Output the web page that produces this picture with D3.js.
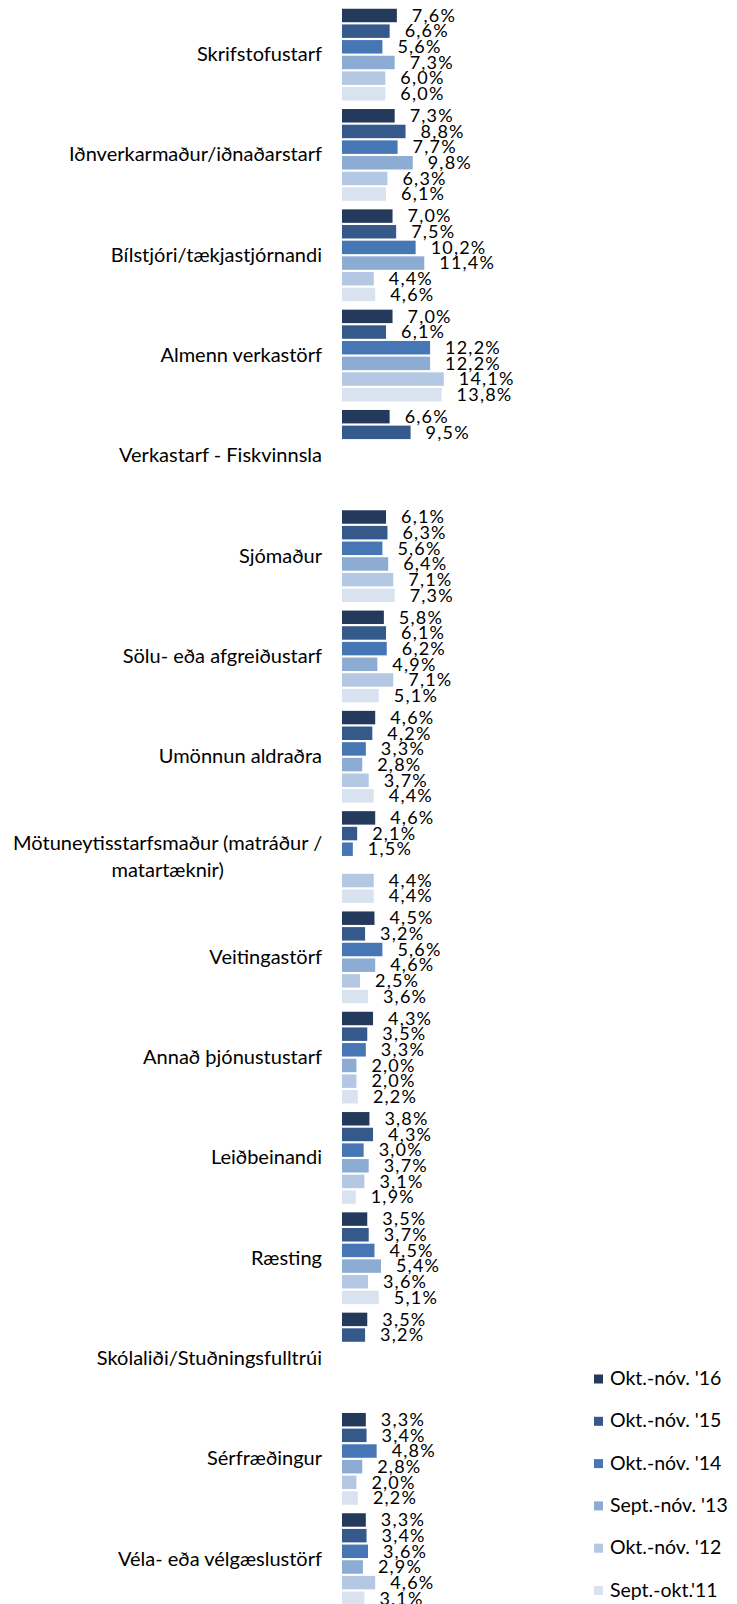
<!DOCTYPE html>
<html>
<head>
<meta charset="utf-8">
<script src="https://cdn.jsdelivr.net/npm/d3@7"></script>
<style>
  body { margin: 0; background: #fff; }
  text { font-family: Lato, "Open Sans", sans-serif; fill: #000; }
</style>
</head>
<body>
<script>
const w = 737;
const h = 1604;

const categories = [
  "Skrifstofustarf",
  "Iðnverkarmaður/iðnaðarstarf",
  "Bílstjóri/tækjastjórnandi",
  "Almenn verkastörf",
  "Verkastarf - Fiskvinnsla",
  "Sjómaður",
  "Sölu- eða afgreiðustarf",
  "Umönnun aldraðra",
  "Mötuneytisstarfsmaður (matráður /|matartæknir)",
  "Veitingastörf",
  "Annað þjónustustarf",
  "Leiðbeinandi",
  "Ræsting",
  "Skólaliði/Stuðningsfulltrúi",
  "Sérfræðingur",
  "Véla- eða vélgæslustörf"
];

const seriesNames = ["Okt.-nóv. '16", "Okt.-nóv. '15", "Okt.-nóv. '14", "Sept.-nóv. '13", "Okt.-nóv. '12", "Sept.-okt.'11"];
const colors = ["#243a5d", "#34598a", "#4677b4", "#8dacd4", "#b4c8e4", "#d9e3f0"];

// percent values, one array per survey (null = no bar)
const okt16 = [7.6, 7.3, 7.0, 7.0, 6.6, 6.1, 5.8, 4.6, 4.6, 4.5, 4.3, 3.8, 3.5, 3.5, 3.3, 3.3];
const okt15 = [6.6, 8.8, 7.5, 6.1, 9.5, 6.3, 6.1, 4.2, 2.1, 3.2, 3.5, 4.3, 3.7, 3.2, 3.4, 3.4];
const okt14 = [5.6, 7.7, 10.2, 12.2, null, 5.6, 6.2, 3.3, 1.5, 5.6, 3.3, 3.0, 4.5, null, 4.8, 3.6];
const sept13 = [7.3, 9.8, 11.4, 12.2, null, 6.4, 4.9, 2.8, null, 4.6, 2.0, 3.7, 5.4, null, 2.8, 2.9];
const okt12 = [6.0, 6.3, 4.4, 14.1, null, 7.1, 7.1, 3.7, 4.4, 2.5, 2.0, 3.1, 3.6, null, 2.0, 4.6];
const sept11 = [6.0, 6.1, 4.6, 13.8, null, 7.3, 5.1, 4.4, 4.4, 3.6, 2.2, 1.9, 5.1, null, 2.2, 3.1];

const seriesValues = [okt16, okt15, okt14, sept13, okt12, sept11];

const axisX = 342;

const svg = d3.select("body")
  .append("svg")
  .attr("width", w)
  .attr("height", h);

const xScale = d3.scaleLinear()
  .domain([0, 16])
  .range([axisX, axisX + 115.5]);

const y0 = d3.scaleBand()
  .domain(categories)
  .range([4.5, 4.5 + 16 * 100.3])
  .paddingInner(0.063)
  .paddingOuter(0.0315);

const y1 = d3.scaleBand()
  .domain(d3.range(seriesNames.length))
  .range([0, y0.bandwidth()])
  .paddingInner(0.14)
  .paddingOuter(0.07);

const fmt = (v) => v.toFixed(1).replace(".", ",") + "%";

const groups = svg.selectAll(".group")
  .data(categories)
  .enter()
  .append("g")
  .attr("class", "group")
  .attr("transform", (d) => "translate(0," + y0(d) + ")");

groups.each(function(cat, ci) {
  const g = d3.select(this);
  const vals = seriesValues.map((s, si) => ({ si: si, v: s[ci] })).filter((d) => d.v != null);

  g.selectAll("rect")
    .data(vals)
    .enter()
    .append("rect")
    .attr("x", axisX)
    .attr("y", (d) => y1(d.si))
    .attr("width", (d) => xScale(d.v) - axisX)
    .attr("height", y1.bandwidth())
    .attr("fill", (d) => colors[d.si]);

  g.selectAll(".val")
    .data(vals)
    .enter()
    .append("text")
    .attr("class", "val")
    .attr("x", (d) => xScale(d.v) + 15)
    .attr("y", (d) => y1(d.si) + 13)
    .style("font-size", "18px")
    .style("letter-spacing", "1.2px")
    .text((d) => fmt(d.v));
});

// category labels (multi-line ones are centred like Excel does)
const labelRight = 322;
categories.forEach(function(cat) {
  const lines = cat.split("|");
  const cy = y0(cat) + y0.bandwidth() / 2;
  const t = svg.append("text")
    .style("font-size", "20px");
  if (lines.length === 1) {
    t.attr("x", labelRight)
      .attr("y", cy + 6.5)
      .attr("text-anchor", "end")
      .text(cat);
  } else {
    const tspans = t.selectAll("tspan")
      .data(lines)
      .enter()
      .append("tspan")
      .text((d) => d);
    let maxW = 0;
    tspans.each(function() { maxW = Math.max(maxW, this.getComputedTextLength()); });
    tspans.attr("x", labelRight - maxW / 2)
      .attr("y", (d, i) => cy - 7 + i * 27)
      .attr("text-anchor", "middle");
  }
});

// legend
const legend = svg.append("g")
  .attr("transform", "translate(594,1379)");

const items = legend.selectAll("g")
  .data(seriesNames)
  .enter()
  .append("g")
  .attr("transform", (d, i) => "translate(0," + (i * 42.3) + ")");

items.append("rect")
  .attr("x", 0)
  .attr("y", -4.5)
  .attr("width", 9)
  .attr("height", 9)
  .attr("fill", (d, i) => colors[i]);

items.append("text")
  .attr("x", 16)
  .attr("y", 6)
  .style("font-size", "19.5px")
  .text((d) => d);
</script>
</body>
</html>
